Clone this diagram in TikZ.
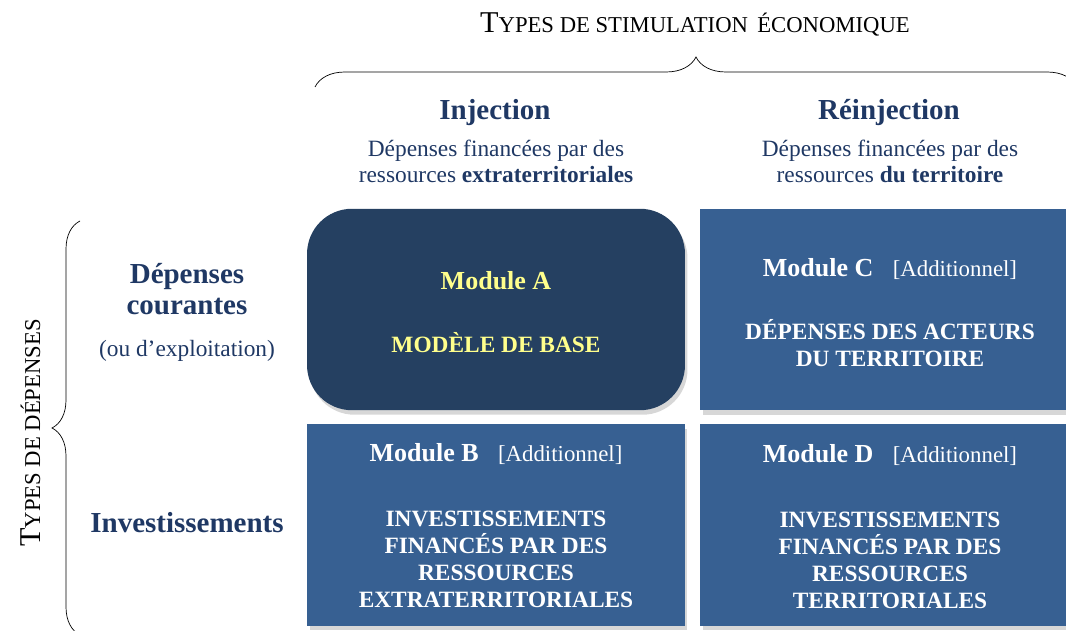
\documentclass[tikz,border=0pt]{standalone}
\usepackage{fontspec}
\setmainfont{Liberation Serif}
\usepackage{xcolor}
\usepackage{tikz}
\usetikzlibrary{positioning,shadows,decorations.pathreplacing}
\definecolor{navy}{RGB}{37,64,97}
\definecolor{modblue}{RGB}{55,96,146}
\definecolor{headblue}{RGB}{31,56,100}
\definecolor{paleyellow}{RGB}{255,255,140}
\newcommand{\petitescaps}[2]{{\fontsize{17.2}{20}\selectfont #1}{\fontsize{12.9}{15}\selectfont #2}}
\tikzstyle{module} = [rectangle, fill=modblue, minimum width=7.56cm, minimum height=4.03cm, drop shadow={shadow xshift=0.05cm, shadow yshift=-0.09cm, fill=black!35, opacity=0.45}]
\tikzstyle{basemodule} = [module, fill=navy, rounded corners=0.9cm]
\tikzstyle{modtitle} = [inner sep=0pt, anchor=base, text=white, font=\fontsize{14.8}{18}\selectfont\bfseries]
\tikzstyle{modbody} = [inner sep=0pt, anchor=base, align=center, text=white, font=\fontsize{13.3}{15.5}\selectfont\bfseries]
\tikzstyle{header} = [inner sep=0pt, anchor=base, text=headblue, font=\fontsize{16.5}{18.5}\selectfont\bfseries]
\tikzstyle{subheader} = [inner sep=0pt, anchor=base, align=center, text=headblue, font=\fontsize{13.3}{14.8}\selectfont]
\tikzstyle{brace} = [decorate, thin, black]
\newcommand{\additionnel}{\hspace{11pt}{\mdseries\fontsize{13}{15}\selectfont[Additionnel]}}

\begin{document}
\begin{tikzpicture}[x=0.02cm, y=-0.02cm]
    \useasboundingbox (0,0) rectangle (1066,631);

    % Stimulation types
    \node[inner sep=0pt, anchor=base] (stimtitle) at (695,33) {\petitescaps{T}{YPES DE STIMULATION \,ÉCONOMIQUE}};
    \draw[brace, decoration={brace, amplitude=0.6cm}] (315,87) -- (1077,87);
    \node[header] (injection) at (495,120) {Injection};
    \node[header] (reinjection) at (889,120) {Réinjection};
    \node[subheader] (injsub) at (496,183) {Dépenses financées par des\\ressources \textbf{extraterritoriales}};
    \node[subheader] (reinjsub) at (890,183) {Dépenses financées par des\\ressources \textbf{du territoire}};

    % Expense types
    \node[inner sep=0pt, anchor=base, rotate=90] (deptitle) at (40,433) {\petitescaps{T}{YPES DE DÉPENSES}};
    \draw[brace, decoration={brace, amplitude=0.56cm}] (80,635) -- (80,221);
    \node[header, align=center, font=\fontsize{16.5}{18.2}\selectfont\bfseries] (courantes) at (187,315) {Dépenses\\courantes};
    \node[subheader] (exploitation) at (187,357) {(ou d’exploitation)};
    \node[header] (investissements) at (187,533) {Investissements};

    % Modules
    \node[basemodule] (modA) at (496,309.5) {};
    \node[module] (modB) at (496,525) {};
    \node[module] (modC) at (889,309.5) {};
    \node[module] (modD) at (889,525) {};

    \node[modtitle, text=paleyellow] (titleA) at (496,290) {Module A};
    \node[modbody, text=paleyellow] (bodyA) at (496,353) {MODÈLE DE BASE};
    \node[modtitle] (titleB) at (496,462) {Module B\additionnel};
    \node[modbody] (bodyB) at (496,608) {INVESTISSEMENTS\\FINANCÉS PAR DES\\RESSOURCES\\EXTRATERRITORIALES};
    \node[modtitle] (titleC) at (890,277) {Module C\additionnel};
    \node[modbody] (bodyC) at (890,367) {DÉPENSES DES ACTEURS\\DU TERRITOIRE};
    \node[modtitle] (titleD) at (890,463) {Module D\additionnel};
    \node[modbody] (bodyD) at (890,609) {INVESTISSEMENTS\\FINANCÉS PAR DES\\RESSOURCES\\TERRITORIALES};
\end{tikzpicture}
\end{document}
